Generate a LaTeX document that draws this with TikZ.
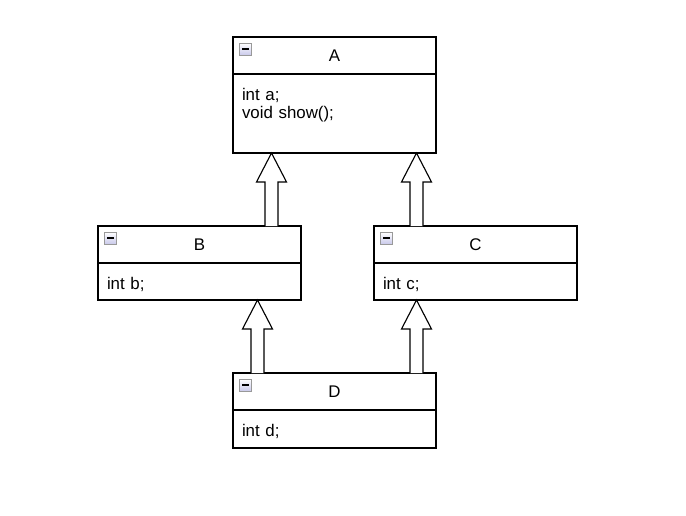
\documentclass[tikz,border=0pt]{standalone}
\usepackage{fontspec}
\setmainfont{Liberation Sans}
\usetikzlibrary{positioning,calc}
\newlength\px
\setlength\px{0.025cm}
% one class box: header, then body
\tikzset{
  head/.style={draw, line width=0.8pt, inner sep=0pt, outer sep=0pt,
    minimum width=203\px, minimum height=37\px, anchor=north west,
    font=\fontsize{12}{13.5}\selectfont},
  body/.style={draw, line width=0.8pt, inner xsep=9\px, inner ysep=0pt,
    outer sep=0pt, text width=185\px, align=left, text height=26\px,
    font=\fontsize{12}{13.5}\selectfont},
  hollow/.style={draw, line width=0.8pt, fill=white, line join=miter},
  icon/.style={draw=gray!80, line width=0.6pt, top color=white,
    bottom color=gray!55!blue!30}
}
% small collapse box in the header corner
\newcommand{\collapse}[1]{%
  \draw[icon] ($(#1.north west)+(6,6)$) rectangle ++(12.5,12.5);
  \draw[line width=2\px] ($(#1.north west)+(9,12.25)$) -- ++(6.5,0);
}
% hollow inheritance arrow from #1 up to #2 at x=#3
\newcommand{\inherit}[3]{%
  \path (#3,0 |- #1.north) coordinate (s) (#3,0 |- #2.south) coordinate (t);
  \draw[hollow] ($(s)+(-6.5,0)$) -- ($(t)+(-6.5,29)$) -- ($(t)+(-15,29)$)
    -- (t) -- ($(t)+(15,29)$) -- ($(t)+(6.5,29)$) -- ($(s)+(6.5,0)$);
}
\begin{document}
\begin{tikzpicture}[x=1\px, y=-1\px]
  \useasboundingbox (0,0) rectangle (686,515);
  % classes
  \node[head] (A) at (233,37) {A};
  \node[body, below=0pt of A, text depth=53\px] (A-body) {int a;\\void show();};
  \node[head] (B) at (98,226) {B};
  \node[body, below=0pt of B, text depth=11\px] (B-body) {int b;};
  \node[head] (C) at (374,226) {C};
  \node[body, below=0pt of C, text depth=11\px] (C-body) {int c;};
  \node[head] (D) at (233,373) {D};
  \node[body, below=0pt of D, text depth=12\px] (D-body) {int d;};
  \collapse{A}
  \collapse{B}
  \collapse{C}
  \collapse{D}
  % inheritance
  \inherit{B}{A-body}{271.5}
  \inherit{C}{A-body}{416.5}
  \inherit{D}{B-body}{257.5}
  \inherit{D}{C-body}{416.5}
\end{tikzpicture}
\end{document}
